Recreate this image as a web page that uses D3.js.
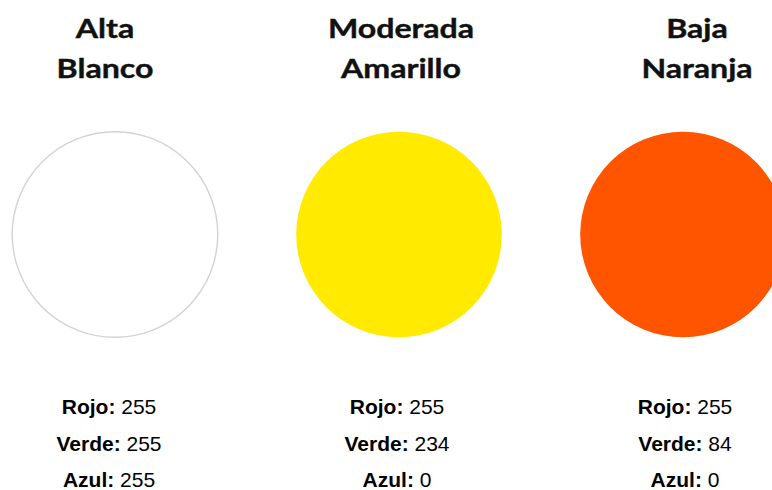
<!DOCTYPE html>
<html>
<head>
<meta charset="utf-8">
<script src="https://cdn.jsdelivr.net/npm/d3@7"></script>
<style>
  body { margin: 0; background: #fff; }
</style>
</head>
<body>
<script>
// Data: levels, colour names and their RGB components
var levels = ["Alta", "Moderada", "Baja"];
var colourNames = ["Blanco", "Amarillo", "Naranja"];
var red = [255, 255, 255];
var green = [255, 234, 84];
var blue = [255, 0, 0];
var channelLabels = ["Rojo:", "Verde:", "Azul:"];

var width = 772, height = 490;

var items = levels.map(function(d, i) {
  return {level: d, name: colourNames[i], values: [red[i], green[i], blue[i]]};
});

// Scales for horizontal placement
var xCircle = d3.scalePoint().domain(levels).range([115, 683]);
var xTitle = d3.scalePoint().domain(levels).range([105, 697]);
var xLabel = d3.scalePoint().domain(levels).range([109, 685]);
var yRow = d3.scalePoint().domain(channelLabels).range([414, 487]);

var svg = d3.select("body").append("svg")
  .attr("width", width)
  .attr("height", height);

// Titles (two lines), slightly stretched to match the wide bold face
var titles = svg.selectAll("g.title")
  .data(items)
  .enter()
  .append("g")
  .attr("class", "title")
  .attr("transform", function(d) { return "translate(" + xTitle(d.level) + ",0) scale(1.19,1)"; });
[["level", 38], ["name", 78]].forEach(function(line) {
  titles.append("text")
    .attr("text-anchor", "middle")
    .attr("font-family", "Lato, 'Open Sans', sans-serif")
    .attr("font-weight", "bold")
    .attr("font-size", 27)
    .attr("fill", "#111")
    .attr("stroke", "#111")
    .attr("stroke-width", 0.4)
    .attr("y", line[1])
    .text(function(d) { return d[line[0]]; });
});

// Colour circles
svg.selectAll("circle")
  .data(items)
  .enter()
  .append("circle")
  .attr("cx", function(d) { return xCircle(d.level); })
  .attr("cy", 234.5)
  .attr("r", 102.8)
  .attr("fill", function(d) { return d3.rgb(d.values[0], d.values[1], d.values[2]); })
  .attr("stroke", function(d, i) { return i === 0 ? "#d3d3d3" : "none"; })
  .attr("stroke-width", 1.4);

// RGB labels
items.forEach(function(item) {
  channelLabels.forEach(function(lab, j) {
    var t = svg.append("text")
      .attr("x", xLabel(item.level))
      .attr("y", yRow(lab))
      .attr("text-anchor", "middle")
      .attr("font-family", "'Liberation Sans', Arial, sans-serif")
      .attr("font-size", 21)
      .attr("fill", "#000");
    t.append("tspan").attr("font-weight", "bold").text(lab);
    t.append("tspan").text(" " + item.values[j]);
  });
});
</script>
</body>
</html>
